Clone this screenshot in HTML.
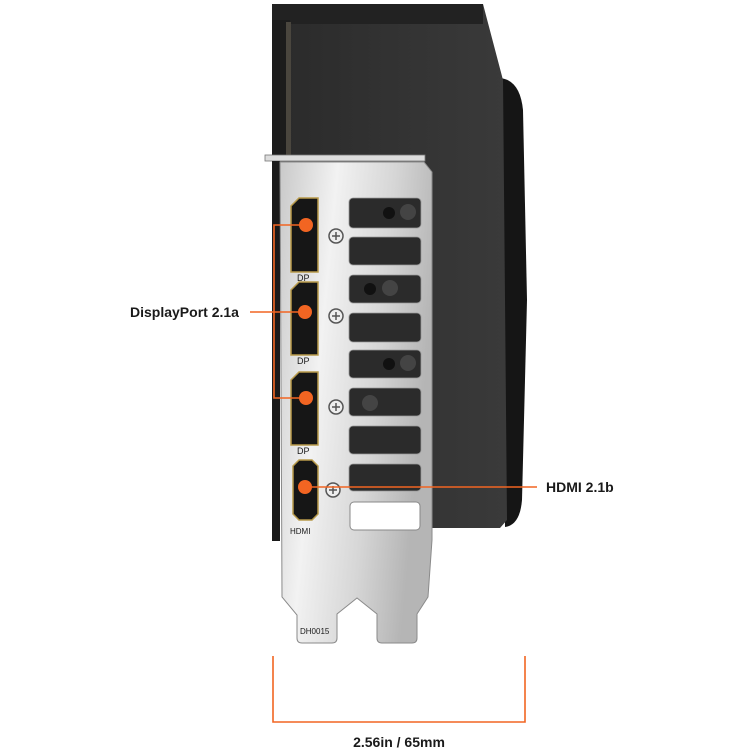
<!DOCTYPE html>
<html><head><meta charset="utf-8"><style>
html,body{margin:0;padding:0;background:#fff;}
svg{display:block}
text{font-family:"Liberation Sans",sans-serif;font-weight:bold;fill:#1a1a1a}
</style></head><body>
<svg width="750" height="750" viewBox="0 0 750 750" xmlns="http://www.w3.org/2000/svg">
<defs>
<linearGradient id="metal" x1="0" y1="0" x2="1" y2="0.3">
<stop offset="0" stop-color="#c9c9c9"/><stop offset="0.35" stop-color="#f2f2f2"/><stop offset="0.7" stop-color="#d6d6d6"/><stop offset="1" stop-color="#b5b5b5"/>
</linearGradient>
<linearGradient id="body" x1="0" y1="0" x2="1" y2="0">
<stop offset="0" stop-color="#2a2a2a"/><stop offset="1" stop-color="#3a3a3a"/>
</linearGradient>
</defs>
<!-- fan shroud side -->
<path d="M500 78 Q520 80 523 110 L527 300 L522 500 Q520 525 505 527 Z" fill="#151515"/>
<!-- body -->
<path d="M272 4 L483 4 L503 80 L507 520 L500 528 L430 528 L430 170 L272 170 Z" fill="url(#body)"/>
<rect x="272" y="4" width="211" height="20" fill="#222"/>
<rect x="272" y="20" width="18" height="150" fill="#1c1c1c"/>
<rect x="286" y="22" width="5" height="135" fill="#4a463e"/>
<!-- bracket lip -->
<rect x="265" y="155" width="160" height="6" fill="#ddd" stroke="#777" stroke-width="0.8"/>
<rect x="272" y="161" width="8" height="380" fill="#1a1a1a"/>
<!-- bracket plate -->
<path d="M280 162 L424 162 L432 172 L432 540 L428 597 L417 614 L417 638 Q417 643 412 643 L382 643 Q377 643 377 638 L377 614 L357 598 L337 614 L337 638 Q337 643 332 643 L302 643 Q297 643 297 638 L297 615 L282 597 Z" fill="url(#metal)" stroke="#8a8a8a" stroke-width="1"/>
<!-- slots -->
<g fill="#2b2b2b" stroke="#999" stroke-width="0.8">
<rect x="349" y="198" width="72" height="30" rx="4"/>
<rect x="349" y="237" width="72" height="28" rx="4"/>
<rect x="349" y="275" width="72" height="28" rx="4"/>
<rect x="349" y="313" width="72" height="29" rx="4"/>
<rect x="349" y="350" width="72" height="28" rx="4"/>
<rect x="349" y="388" width="72" height="28" rx="4"/>
<rect x="349" y="426" width="72" height="28" rx="4"/>
<rect x="349" y="464" width="72" height="27" rx="4"/>
</g>
<rect x="350" y="502" width="70" height="28" rx="4" fill="#fff" stroke="#888"/>
<g fill="#111"><circle cx="389" cy="213" r="6"/><circle cx="408" cy="212" r="8" fill="#444"/>
<circle cx="370" cy="289" r="6"/><circle cx="390" cy="288" r="8" fill="#444"/>
<circle cx="389" cy="364" r="6"/><circle cx="408" cy="363" r="8" fill="#444"/>
<circle cx="370" cy="403" r="8" fill="#444"/></g>
<!-- screws -->
<g fill="#eee" stroke="#555" stroke-width="1.5">
<circle cx="336" cy="236" r="7"/><circle cx="336" cy="316" r="7"/><circle cx="336" cy="407" r="7"/><circle cx="333" cy="490" r="7"/>
</g>
<g stroke="#555" stroke-width="1.5">
<path d="M332 236h8M336 232v8M332 316h8M336 312v8M332 407h8M336 403v8M329 490h8M333 486v8"/>
</g>
<!-- ports -->
<g fill="#161616" stroke="#b89a4a" stroke-width="1.5">
<path d="M291 206 L299 198 L318 198 L318 272 L291 272 Z"/>
<path d="M291 290 L299 282 L318 282 L318 355 L291 355 Z"/>
<path d="M291 380 L299 372 L318 372 L318 445 L291 445 Z"/>
<path d="M293 466 L299 460 L312 460 L318 466 L318 514 L312 520 L299 520 L293 514 Z"/>
</g>
<g font-size="9" fill="#444" style="font-family:'Liberation Sans',sans-serif">
<text x="297" y="281" font-size="9" fill="#555" style="font-weight:normal">DP</text>
<text x="297" y="364" font-size="9" fill="#555" style="font-weight:normal">DP</text>
<text x="297" y="454" font-size="9" fill="#555" style="font-weight:normal">DP</text>
<text x="290" y="534" font-size="8" fill="#555" style="font-weight:normal">HDMI</text>
<text x="300" y="634" font-size="8" fill="#666" style="font-weight:normal">DH0015</text>
</g>
<!-- orange callouts -->
<g stroke="#f26522" stroke-width="1.6" fill="none">
<path d="M306 225 H274 V398 H306"/>
<path d="M250 312 H306"/>
<path d="M306 487 H537"/>
<path d="M273 656 V722 H525 V656"/>
</g>
<g fill="#f26522"><circle cx="306" cy="225" r="7"/><circle cx="305" cy="312" r="7"/><circle cx="306" cy="398" r="7"/><circle cx="305" cy="487" r="7"/></g>
<text x="130" y="317" font-size="14">DisplayPort 2.1a</text>
<text x="546" y="492" font-size="14">HDMI 2.1b</text>
<text x="399" y="747" font-size="14" text-anchor="middle">2.56in / 65mm</text>
</svg>
</body></html>
